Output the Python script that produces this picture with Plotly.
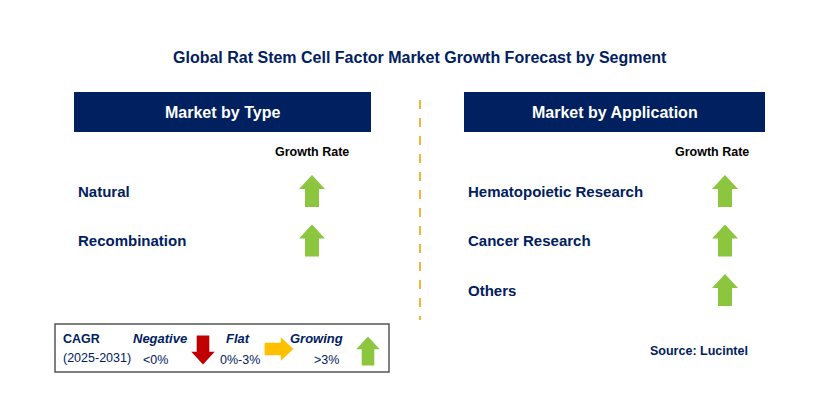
import plotly.graph_objects as go

# data
title = "Global Rat Stem Cell Factor Market Growth Forecast by Segment"
type_segments = ["Natural", "Recombination"]
type_growth = ["up", "up"]
app_segments = ["Hematopoietic Research", "Cancer Research", "Others"]
app_growth = ["up", "up", "up"]

NAVY = "#002060"
GREEN = "#8cc63f"
RED = "#c00000"
AMBER = "#ffc000"
FONT = "Arial, Liberation Sans, sans-serif"

fig = go.Figure()
ann = []


def arrow(cx, cy, kind, color, s=1.0):
    # arrow polygon centred at (cx, cy)
    hw, sw, hh, L = 13 * s, 7 * s, 14 * s, 32 * s
    if kind == "up":
        xs = [cx, cx + hw, cx + sw, cx + sw, cx - sw, cx - sw, cx - hw, cx]
        ys = [cy - L/2, cy - L/2 + hh, cy - L/2 + hh, cy + L/2, cy + L/2, cy - L/2 + hh, cy - L/2 + hh, cy - L/2]
    elif kind == "down":
        xs = [cx, cx + hw, cx + sw, cx + sw, cx - sw, cx - sw, cx - hw, cx]
        ys = [cy + L/2, cy + L/2 - hh, cy + L/2 - hh, cy - L/2, cy - L/2, cy + L/2 - hh, cy + L/2 - hh, cy + L/2]
    else:
        xs = [cx + L/2, cx + L/2 - hh, cx + L/2 - hh, cx - L/2, cx - L/2, cx + L/2 - hh, cx + L/2 - hh, cx + L/2]
        ys = [cy, cy - hw, cy - sw, cy - sw, cy + sw, cy + sw, cy + hw, cy]
    fig.add_trace(go.Scatter(x=xs, y=ys, fill="toself", fillcolor=color, mode="lines",
                             line=dict(width=0, color=color), hoverinfo="skip", showlegend=False))


def panel(x0, x1, header, segs, growth, arrow_x, head_x):
    fig.add_shape(type="rect", x0=x0, x1=x1, y0=92, y1=132, fillcolor=NAVY, line_width=0, layer="below")
    ann.append(dict(x=(x0 + x1) / 2, y=112, text="<b>%s</b>" % header,
                    font=dict(size=16, color="white")))
    ann.append(dict(x=head_x, y=152, text="<b>Growth Rate</b>", font=dict(size=12.5, color="black")))
    for i, (s, g) in enumerate(zip(segs, growth)):
        y = 191 + i * 49.5
        ann.append(dict(x=x0 + 2, y=y, text="<b>%s</b>" % s, xanchor="left",
                        font=dict(size=15, color=NAVY)))
        arrow(arrow_x, y, g, GREEN)


panel(74, 371, "Market by Type", type_segments, type_growth, 312, 312)
panel(464, 765, "Market by Application", app_segments, app_growth, 725, 712)

fig.add_shape(type="line", x0=420, x1=420, y0=100, y1=320, layer="below",
              line=dict(color="#f5b43c", width=2, dash="dash"))

ann.append(dict(x=420, y=57, text="<b>%s</b>" % title, font=dict(size=16, color=NAVY)))
ann.append(dict(x=750, y=351, text="<b>Source: Lucintel</b>", xanchor="right",
                font=dict(size=12.5, color=NAVY)))

# legend box
fig.add_shape(type="rect", x0=55, x1=389, y0=324, y1=372, fillcolor="white", layer="below",
              line=dict(color="#555555", width=1.5))
ann += [
    dict(x=61, y=339, text="<b>CAGR</b>", xanchor="left", font=dict(size=12.5, color=NAVY)),
    dict(x=61, y=358, text="(2025-2031)", xanchor="left", font=dict(size=12.5, color=NAVY)),
    dict(x=160, y=338, text="<b><i>Negative</i></b>", font=dict(size=13, color=NAVY)),
    dict(x=155, y=360, text="<0%", font=dict(size=12.5, color=NAVY)),
    dict(x=238, y=338, text="<b><i>Flat</i></b>", font=dict(size=13, color=NAVY)),
    dict(x=240, y=360, text="0%-3%", font=dict(size=12.5, color=NAVY)),
    dict(x=316, y=338, text="<b><i>Growing</i></b>", font=dict(size=13, color=NAVY)),
    dict(x=326, y=360, text=">3%", font=dict(size=12.5, color=NAVY)),
]
arrow(203, 350, "down", RED, 0.9)
arrow(279, 349, "right", AMBER, 0.9)
arrow(368, 351, "up", GREEN, 0.9)

for a in ann:
    a.update(showarrow=False, xref="x", yref="y")
    a.setdefault("font", {})
    a["font"]["family"] = FONT

fig.update_layout(
    width=829, height=400, margin=dict(l=0, r=0, t=0, b=0),
    plot_bgcolor="white", paper_bgcolor="white", annotations=ann,
    xaxis=dict(range=[8, 837], visible=False, fixedrange=True),
    yaxis=dict(range=[408, 8], visible=False, fixedrange=True),
)

fig.write_html("out.html")
